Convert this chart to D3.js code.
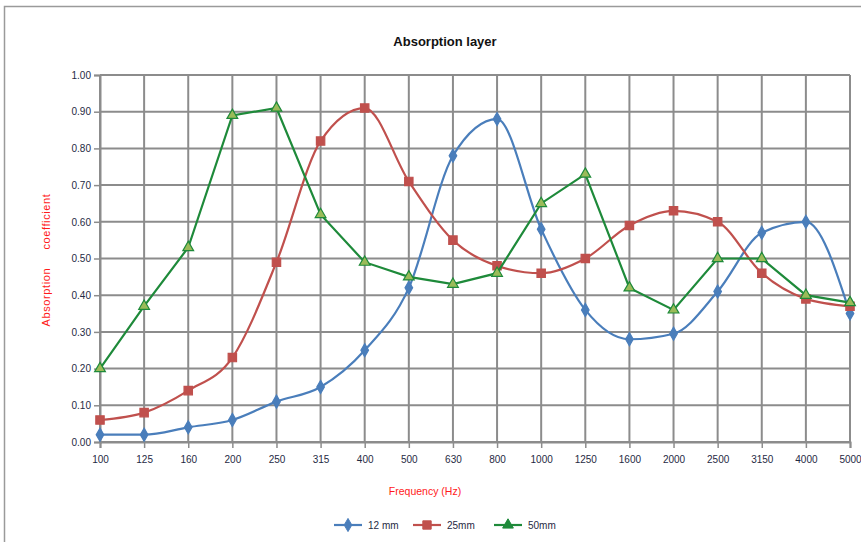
<!DOCTYPE html>
<html>
<head>
<meta charset="utf-8">
<script src="https://cdn.jsdelivr.net/npm/d3@7"></script>
<style>
  body { margin: 0; background: #fff; }
  text { font-family: "Liberation Sans Narrow", "Liberation Sans", Arial, sans-serif; }
</style>
</head>
<body>
<script>
var w = 861;
var h = 542;

var freqs = ["100", "125", "160", "200", "250", "315", "400", "500", "630", "800",
             "1000", "1250", "1600", "2000", "2500", "3150", "4000", "5000"];
var mm12 = [0.02, 0.02, 0.04, 0.06, 0.11, 0.15, 0.25, 0.42, 0.78, 0.88,
            0.58, 0.36, 0.28, 0.295, 0.41, 0.57, 0.60, 0.35];
var mm25 = [0.06, 0.08, 0.14, 0.23, 0.49, 0.82, 0.91, 0.71, 0.55, 0.48,
            0.46, 0.50, 0.59, 0.63, 0.60, 0.46, 0.39, 0.37];
var mm50 = [0.20, 0.37, 0.53, 0.89, 0.91, 0.62, 0.49, 0.45, 0.43, 0.46,
            0.65, 0.73, 0.42, 0.36, 0.50, 0.50, 0.40, 0.38];
var yTicks = [0, 0.1, 0.2, 0.3, 0.4, 0.5, 0.6, 0.7, 0.8, 0.9, 1.0];

var series = [
  { name: "12 mm", values: mm12, color: "#4a7ebb", fill: "#4a7ebb", symbol: d3.symbolDiamond, size: 50, curve: d3.curveMonotoneX },
  { name: "25mm", values: mm25, color: "#c0504d", fill: "#c0504d", symbol: d3.symbolSquare, size: 70, curve: d3.curveMonotoneX },
  { name: "50mm", values: mm50, color: "#1e8a3a", fill: "#9bbb59", symbol: d3.symbolTriangle, size: 50, curve: d3.curveLinear }
];

var svg = d3.select("body").append("svg")
    .attr("width", w)
    .attr("height", h);

// outer chart frame
svg.append("rect")
    .attr("x", 4.5).attr("y", 6.5)
    .attr("width", w + 20).attr("height", h + 20)
    .attr("fill", "#fff")
    .attr("stroke", "#9a9a9a")
    .attr("stroke-width", 1.5);

var plotL = 100, plotR = 850, plotT = 75, plotB = 442;

var xScale = d3.scalePoint().domain(freqs).range([plotL, plotR]);
var yScale = d3.scaleLinear().domain([0, 1]).range([plotB, plotT]);

// grid
svg.append("g").selectAll("line")
    .data(yTicks).enter().append("line")
    .attr("x1", plotL).attr("x2", plotR)
    .attr("y1", function(d) { return yScale(d); })
    .attr("y2", function(d) { return yScale(d); })
    .attr("stroke", "#8c8c8c").attr("stroke-width", 2);

svg.append("g").selectAll("line")
    .data(freqs).enter().append("line")
    .attr("x1", function(d) { return xScale(d); })
    .attr("x2", function(d) { return xScale(d); })
    .attr("y1", plotT).attr("y2", plotB)
    .attr("stroke", "#8c8c8c").attr("stroke-width", 2);

var xAxis = d3.axisBottom(xScale).tickSize(6).tickPadding(8);
var yAxis = d3.axisLeft(yScale).tickValues(yTicks).tickSize(6).tickPadding(3)
    .tickFormat(d3.format(".2f"));

var gx = svg.append("g")
    .attr("transform", "translate(0," + plotB + ")")
    .call(xAxis);
var gy = svg.append("g")
    .attr("transform", "translate(" + plotL + ",0)")
    .call(yAxis);

[gx, gy].forEach(function(g) {
  g.select(".domain").attr("stroke", "#8c8c8c").attr("stroke-width", 2);
  g.selectAll(".tick line").attr("stroke", "#8c8c8c").attr("stroke-width", 1.5);
  g.selectAll(".tick text")
    .attr("fill", "#1f2a44")
    .style("font-size", "10px")
    .style("font-family", "'Liberation Sans Narrow', 'Liberation Sans', Arial, sans-serif");
});

// series lines and markers
series.forEach(function(s) {
  var line = d3.line()
      .x(function(d, i) { return xScale(freqs[i]); })
      .y(function(d) { return yScale(d); })
      .curve(s.curve);

  svg.append("path")
      .datum(s.values)
      .attr("d", line)
      .attr("fill", "none")
      .attr("stroke", s.color)
      .attr("stroke-width", 2.2);

  svg.append("g").selectAll("path")
      .data(s.values).enter().append("path")
      .attr("transform", function(d, i) { return "translate(" + xScale(freqs[i]) + "," + yScale(d) + ")"; })
      .attr("d", d3.symbol().type(s.symbol).size(s.size))
      .attr("fill", s.fill)
      .attr("stroke", s.color)
      .attr("stroke-width", 1.2);
});

// titles
svg.append("text")
    .attr("x", 445).attr("y", 46)
    .style("text-anchor", "middle")
    .style("font-size", "13px")
    .style("font-weight", "bold")
    .attr("fill", "#111")
    .text("Absorption layer");

svg.append("text")
    .attr("x", 425).attr("y", 495)
    .style("text-anchor", "middle")
    .style("font-size", "10.5px")
    .attr("fill", "#ff1a1a")
    .text("Frequency (Hz)");

svg.append("text")
    .attr("transform", "rotate(-90)")
    .attr("x", -260).attr("y", 50)
    .style("text-anchor", "middle")
    .style("font-size", "11px")
    .style("letter-spacing", "0.6px")
    .style("white-space", "pre")
    .attr("fill", "#ff1a1a")
    .text("Absorption     coefficient");

// legend
var legendX = [334, 413, 494];
series.forEach(function(s, i) {
  var lg = svg.append("g").attr("transform", "translate(" + legendX[i] + ",525)");
  lg.append("line")
      .attr("x1", 0).attr("x2", 28)
      .attr("stroke", s.color).attr("stroke-width", 2.2);
  lg.append("path")
      .attr("transform", "translate(14,0)")
      .attr("d", d3.symbol().type(s.symbol).size(s.size))
      .attr("fill", s.color)
      .attr("stroke", s.color);
  lg.append("text")
      .attr("x", 34).attr("y", 4)
      .style("font-size", "10px")
      .attr("fill", "#1f2a44")
      .text(s.name);
});
</script>
</body>
</html>
